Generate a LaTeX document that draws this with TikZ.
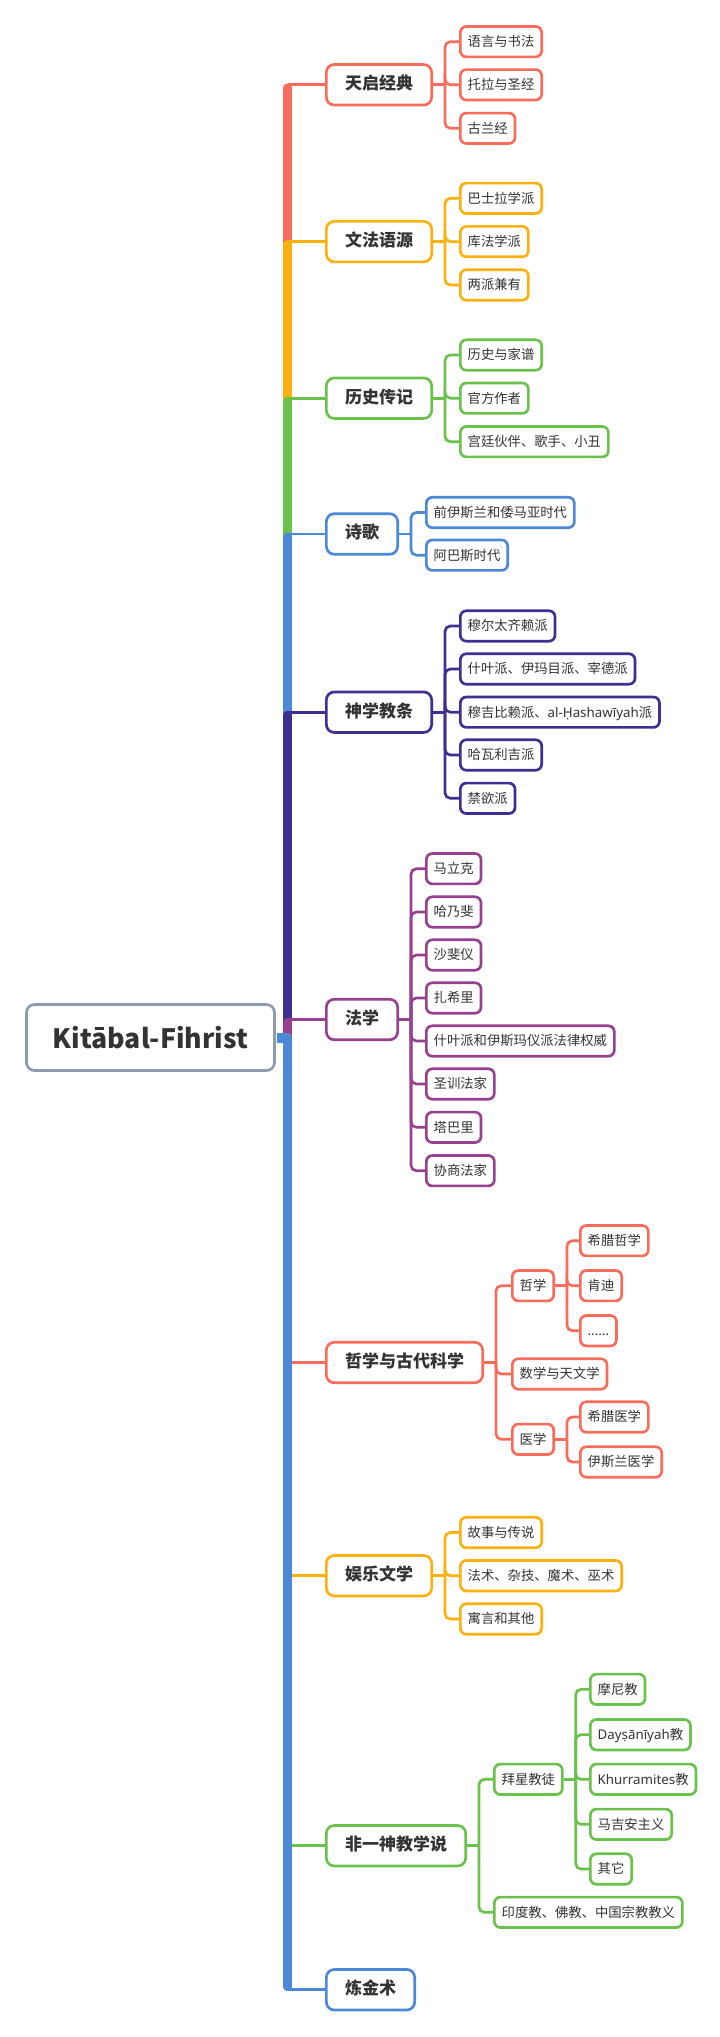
\documentclass[tikz,border=0pt]{standalone}
\usepackage{fontspec}
\setmainfont{Noto Sans CJK SC}
\newfontfamily\lat{Noto Sans}
\usetikzlibrary{calc}
\definecolor{cred}{HTML}{F76C5A}
\definecolor{cyel}{HTML}{FDB10E}
\definecolor{cgrn}{HTML}{6AC14B}
\definecolor{cblu}{HTML}{4C88D8}
\definecolor{cpur}{HTML}{3E3092}
\definecolor{cmag}{HTML}{96408F}
\definecolor{croot}{HTML}{8C9BAF}
\definecolor{ctxt}{HTML}{333333}
\newcommand\mmbranch[3]{%
  \coordinate (#2-br) at ($(#2.east)+(12,0)$);
  \draw[link,#1] (#2.east) -- (#2-br);
  \foreach \ch in {#3}{\draw[link,#1,rounded corners=4pt] (#2-br) |- (\ch.west);}%
}
\newcommand\mmup[2]{%
  \draw[bar,#1] (sp |- root.east) -- ($(sp |- #2.west)+(0,2.9)$);
  \draw[link,#1] (sp |- #2.west) -- (#2.west);
}
\newcommand\mmdown[2]{%
  \draw[bar,#1] (sp |- root.east) -- ($(sp |- #2.west)+(0,-2.9)$);
  \draw[link,#1] (sp |- #2.west) -- (#2.west);
}
\begin{document}
\begin{tikzpicture}[x=0.75pt,y=-0.75pt,
  box/.style={draw, rounded corners=4.5pt, line width=2pt, fill=white, text=ctxt,
    text height=0.86em, text depth=0.14em, anchor=west},
  leaf/.style={box, font=\fontsize{10pt}{12pt}\selectfont, inner xsep=5.5pt, inner ysep=6.4pt},
  topic/.style={box, rounded corners=6pt, font=\fontsize{12.75pt}{15pt}\selectfont\bfseries,
    inner xsep=14pt, inner ysep=10.2pt},
  link/.style={line width=2pt},
  bar/.style={line width=6.4pt, line cap=round},
]
\useasboundingbox (0,0) rectangle (720,2037);
\fill[white] (0,0) rectangle (720,2037);
\coordinate (sp) at (287.5,0);

% root
\node[draw=croot, line width=2pt, rounded corners=6pt, fill=white, minimum width=186pt,
  minimum height=49.5pt, inner sep=0pt, text=ctxt,
  font=\fontsize{20pt}{23pt}\selectfont\bfseries] (root) at (150.5,1037.5) {Kitābal-Fihrist};

% topics
\node[topic, draw=cred] (t1) at (325,84.8) {天启经典};
\node[topic, draw=cyel] (t2) at (325,241.6) {文法语源};
\node[topic, draw=cgrn] (t3) at (325,398.2) {历史传记};
\node[topic, draw=cblu] (t4) at (325,534) {诗歌};
\node[topic, draw=cpur] (t5) at (325,712.2) {神学教条};
\node[topic, draw=cmag] (t6) at (325,1019.5) {法学};
\node[topic, draw=cred] (t7) at (325,1362.5) {哲学与古代科学};
\node[topic, draw=cyel] (t8) at (325,1575.7) {娱乐文学};
\node[topic, draw=cgrn] (t9) at (325,1845.7) {非一神教学说};
\node[topic, draw=cblu] (t10) at (325,1989.7) {炼金术};

% leaves of t1
\node[leaf, draw=cred] (t1-1) at (459,41.7) {语言与书法};
\node[leaf, draw=cred] (t1-2) at (459,84.8) {托拉与圣经};
\node[leaf, draw=cred] (t1-3) at (459,128.3) {古兰经};
% t2
\node[leaf, draw=cyel] (t2-1) at (459,198.3) {巴士拉学派};
\node[leaf, draw=cyel] (t2-2) at (459,241.6) {库法学派};
\node[leaf, draw=cyel] (t2-3) at (459,285) {两派兼有};
% t3
\node[leaf, draw=cgrn] (t3-1) at (459,355) {历史与家谱};
\node[leaf, draw=cgrn] (t3-2) at (459,398.2) {官方作者};
\node[leaf, draw=cgrn] (t3-3) at (459,441.7) {宫廷伙伴、歌手、小丑};
% t4
\node[leaf, draw=cblu] (t4-1) at (425,512.5) {前伊斯兰和倭马亚时代};
\node[leaf, draw=cblu] (t4-2) at (425,555.2) {阿巴斯时代};
% t5
\node[leaf, draw=cpur] (t5-1) at (459,626) {穆尔太齐赖派};
\node[leaf, draw=cpur] (t5-2) at (459,669) {什叶派、伊玛目派、宰德派};
\node[leaf, draw=cpur] (t5-3) at (459,712.2) {穆吉比赖派、{\lat al-Ḥashawīyah}派};
\node[leaf, draw=cpur] (t5-4) at (459,755) {哈瓦利吉派};
\node[leaf, draw=cpur] (t5-5) at (459,798.3) {禁欲派};
% t6
\node[leaf, draw=cmag] (t6-1) at (425,868.7) {马立克};
\node[leaf, draw=cmag] (t6-2) at (425,912) {哈乃斐};
\node[leaf, draw=cmag] (t6-3) at (425,955) {沙斐仪};
\node[leaf, draw=cmag] (t6-4) at (425,998) {扎希里};
\node[leaf, draw=cmag] (t6-5) at (425,1041) {什叶派和伊斯玛仪派法律权威};
\node[leaf, draw=cmag] (t6-6) at (425,1084) {圣训法家};
\node[leaf, draw=cmag] (t6-7) at (425,1127.3) {塔巴里};
\node[leaf, draw=cmag] (t6-8) at (425,1170.7) {协商法家};
% t7
\node[leaf, draw=cred] (t7-1) at (511,1285.7) {哲学};
\node[leaf, draw=cred] (t7-2) at (511,1374) {数学与天文学};
\node[leaf, draw=cred] (t7-3) at (511,1439.3) {医学};
\node[leaf, draw=cred] (t7-1-1) at (579,1240.7) {希腊哲学};
\node[leaf, draw=cred] (t7-1-2) at (579,1285.7) {肯迪};
\node[leaf, draw=cred] (t7-1-3) at (579,1330.7) {{\lat ......}};
\node[leaf, draw=cred] (t7-3-1) at (579,1417) {希腊医学};
\node[leaf, draw=cred] (t7-3-2) at (579,1462) {伊斯兰医学};
% t8
\node[leaf, draw=cyel] (t8-1) at (459,1532.5) {故事与传说};
\node[leaf, draw=cyel] (t8-2) at (459,1575.7) {法术、杂技、魔术、巫术};
\node[leaf, draw=cyel] (t8-3) at (459,1619) {寓言和其他};
% t9
\node[leaf, draw=cgrn] (t9-1) at (493,1779.3) {拜星教徒};
\node[leaf, draw=cgrn] (t9-2) at (493,1912.3) {印度教、佛教、中国宗教教义};
\node[leaf, draw=cgrn] (t9-1-1) at (589,1689.3) {摩尼教};
\node[leaf, draw=cgrn] (t9-1-2) at (589,1734.7) {{\lat Dayṣānīyah}教};
\node[leaf, draw=cgrn] (t9-1-3) at (589,1779.3) {{\lat Khurramites}教};
\node[leaf, draw=cgrn] (t9-1-4) at (589,1824.3) {马吉安主义};
\node[leaf, draw=cgrn] (t9-1-5) at (589,1869) {其它};

% spine and topic connectors
\mmup{cred}{t1}
\mmup{cyel}{t2}
\mmup{cgrn}{t3}
\mmup{cblu}{t4}
\mmup{cpur}{t5}
\mmup{cmag}{t6}
\mmdown{cred}{t7}
\mmdown{cyel}{t8}
\mmdown{cgrn}{t9}
\mmdown{cblu}{t10}
\draw[cblu, line width=7.5pt] ([xshift=1pt]root.east) -- (sp |- root.east);

% branches
\mmbranch{cred}{t1}{t1-1,t1-2,t1-3}
\mmbranch{cyel}{t2}{t2-1,t2-2,t2-3}
\mmbranch{cgrn}{t3}{t3-1,t3-2,t3-3}
\mmbranch{cblu}{t4}{t4-1,t4-2}
\mmbranch{cpur}{t5}{t5-1,t5-2,t5-3,t5-4,t5-5}
\mmbranch{cmag}{t6}{t6-1,t6-2,t6-3,t6-4,t6-5,t6-6,t6-7,t6-8}
\mmbranch{cred}{t7}{t7-1,t7-2,t7-3}
\mmbranch{cred}{t7-1}{t7-1-1,t7-1-2,t7-1-3}
\mmbranch{cred}{t7-3}{t7-3-1,t7-3-2}
\mmbranch{cyel}{t8}{t8-1,t8-2,t8-3}
\mmbranch{cgrn}{t9}{t9-1,t9-2}
\mmbranch{cgrn}{t9-1}{t9-1-1,t9-1-2,t9-1-3,t9-1-4,t9-1-5}
\end{tikzpicture}
\end{document}
